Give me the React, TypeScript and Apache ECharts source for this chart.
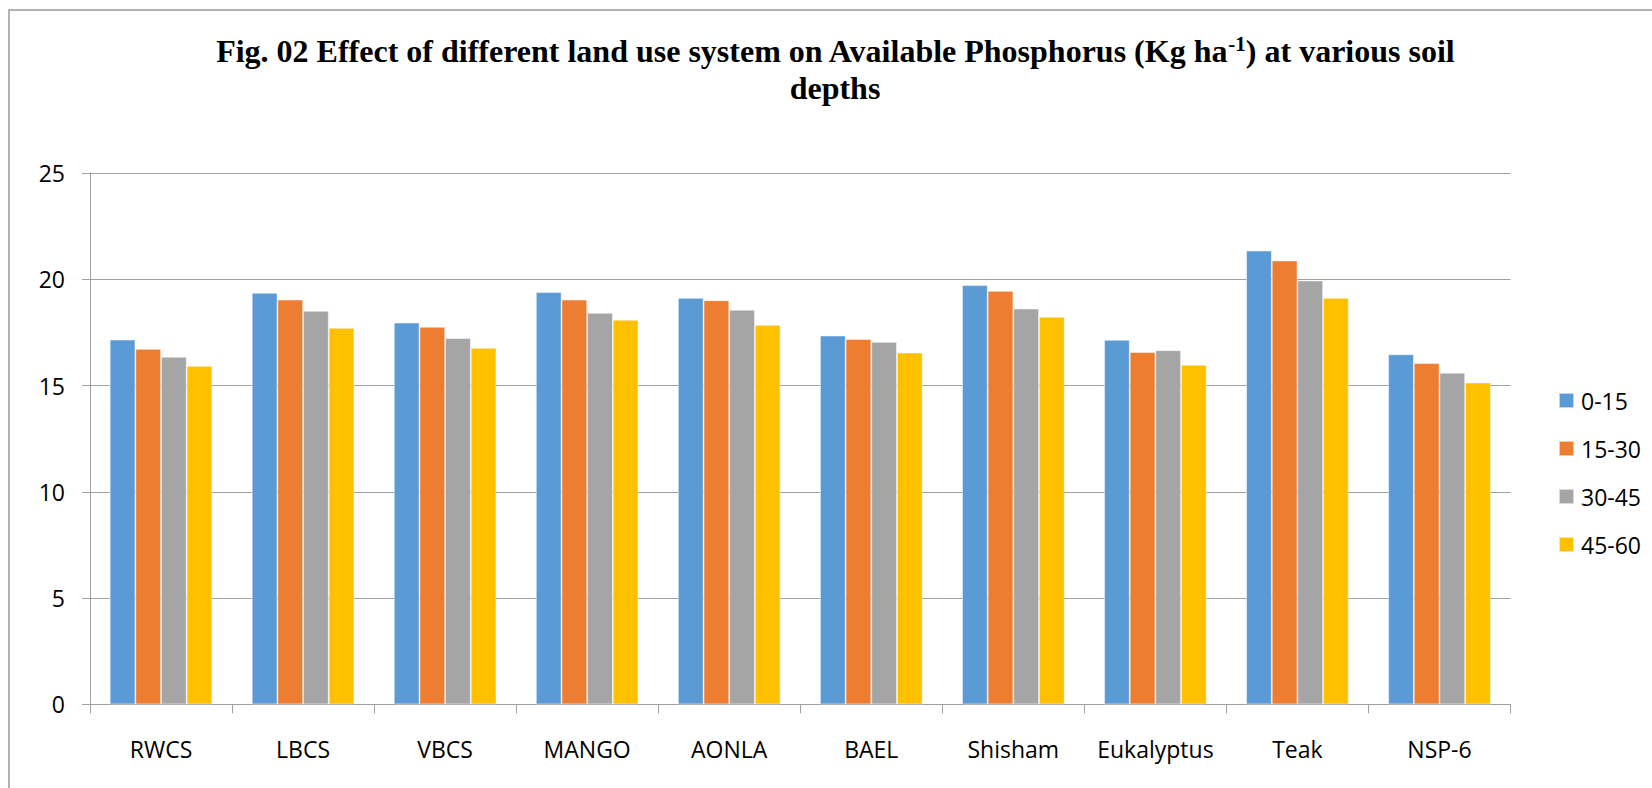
import React, { useEffect, useRef } from "react";
import * as echarts from "echarts";

const categories = ["RWCS", "LBCS", "VBCS", "MANGO", "AONLA", "BAEL", "Shisham", "Eukalyptus", "Teak", "NSP-6"];
const seriesNames = ["0-15", "15-30", "30-45", "45-60"];
const depth0to15 = [17.16, 19.36, 17.96, 19.39, 19.12, 17.35, 19.72, 17.15, 21.35, 16.47];
const depth15to30 = [16.72, 19.04, 17.76, 19.04, 19.01, 17.19, 19.45, 16.57, 20.88, 16.05];
const depth30to45 = [16.35, 18.51, 17.23, 18.42, 18.56, 17.05, 18.62, 16.66, 19.94, 15.6];
const depth45to60 = [15.92, 17.71, 16.77, 18.09, 17.85, 16.55, 18.23, 15.97, 19.12, 15.14];
const seriesValues = [depth0to15, depth15to30, depth30to45, depth45to60];
const colors = ["#5B9BD5", "#ED7D31", "#A5A5A5", "#FFC000"];

const SANS = "'Open Sans', 'Noto Sans', sans-serif";
const SERIF = "'Liberation Serif', 'Times New Roman', serif";

export default function App() {
  const ref = useRef<HTMLDivElement>(null);
  useEffect(() => {
    if (!ref.current) return;
    const chart = echarts.init(ref.current, null, { renderer: "svg" });
    const option = {
      animation: false,
      backgroundColor: "#ffffff",
      grid: { left: 90, top: 173, width: 1420.5, height: 531.3, containLabel: false },
      graphic: [
        {
          type: "rect",
          shape: { x: 9, y: 10, width: 1700, height: 820 },
          style: { fill: "none", stroke: "#9a9a9a", lineWidth: 1.5 },
          silent: true,
        },
        {
          type: "text",
          x: 835,
          y: 51,
          style: {
            text: "{a|Fig. 02 Effect of different land use system on Available Phosphorus (Kg ha}{sup|-1}{a|) at various soil}",
            align: "center",
            verticalAlign: "middle",
            textAlign: "center",
            textVerticalAlign: "middle",
            rich: {
              a: { fontFamily: SERIF, fontWeight: "bold", fontSize: 32, fill: "#000", color: "#000", lineHeight: 36 },
              sup: { fontFamily: SERIF, fontWeight: "bold", fontSize: 21, fill: "#000", color: "#000", verticalAlign: "top", lineHeight: 36, padding: [0, 0, 12, 0] },
            },
          },
        },
        {
          type: "text",
          x: 835,
          y: 88,
          style: {
            text: "depths",
            font: "bold 32px " + SERIF,
            fill: "#000",
            align: "center",
            verticalAlign: "middle",
            textAlign: "center",
            textVerticalAlign: "middle",
          },
        },
      ],
      legend: {
        orient: "vertical",
        left: 1553,
        top: 384,
        itemWidth: 15,
        itemHeight: 15,
        itemGap: 25,
        icon: "rect",
        data: seriesNames,
        textStyle: { fontFamily: SANS, fontSize: 23, color: "#000", padding: [0, 0, 0, 2] },
      },
      xAxis: {
        type: "category",
        data: categories,
        boundaryGap: true,
        axisLine: { show: true, lineStyle: { color: "#a0a0a0", width: 1 } },
        axisTick: { show: true, interval: 0, length: 9, lineStyle: { color: "#a0a0a0" } },
        axisLabel: { interval: 0, fontFamily: SANS, fontSize: 23, color: "#000", margin: 33 },
      },
      yAxis: {
        type: "value",
        min: 0,
        max: 25,
        interval: 5,
        axisLine: { show: true, lineStyle: { color: "#a0a0a0", width: 1 } },
        axisTick: { show: true, length: 8, lineStyle: { color: "#a0a0a0" } },
        splitLine: { show: true, lineStyle: { color: "#a0a0a0", width: 1 } },
        axisLabel: { fontFamily: SANS, fontSize: 23, color: "#000", margin: 25 },
      },
      series: seriesNames.map((name, i) => ({
        name,
        type: "bar",
        data: seriesValues[i],
        barGap: "0%",
        barCategoryGap: "27.8%",
        itemStyle: { color: colors[i], borderColor: "rgba(255,255,255,0.6)", borderWidth: 0.8 },
      })),
    };
    chart.setOption(option);
    return () => chart.dispose();
  }, []);
  return (
    <div
      ref={ref}
      style={{ position: "absolute", left: 0, top: 0, width: 1652, height: 788 }}
    />
  );
}
